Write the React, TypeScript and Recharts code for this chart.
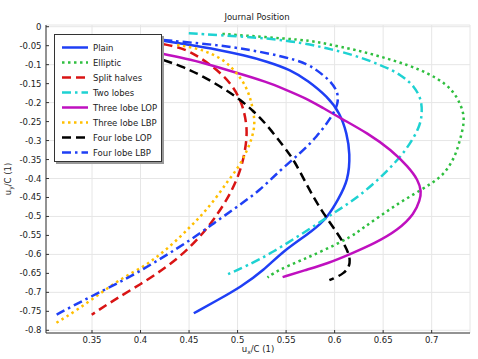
import { LineChart, Line, XAxis, YAxis, CartesianGrid } from 'recharts';

// journal centre trajectories, [u_x/C, u_y/C]
const plain = [
  [0.4235, -0.037], [0.4514, -0.048], [0.479, -0.06], [0.5063, -0.075], [0.5309, -0.092],
  [0.555, -0.114], [0.5723, -0.142], [0.593, -0.185], [0.6057, -0.2285],
  [0.6126, -0.281], [0.616, -0.334], [0.6142, -0.4045], [0.6033, -0.457], [0.593, -0.501],
  [0.5788, -0.536], [0.5477, -0.589], [0.527, -0.642], [0.5032, -0.686], [0.479, -0.721],
  [0.4549, -0.755],
];
const elliptic = [
  [0.4843, -0.019], [0.5136, -0.0245], [0.5477, -0.031], [0.5757, -0.037], [0.593, -0.046],
  [0.6202, -0.06], [0.6481, -0.079], [0.6758, -0.101], [0.6965, -0.123], [0.7137, -0.149],
  [0.724, -0.176], [0.7309, -0.211], [0.7344, -0.246], [0.7292, -0.299], [0.724, -0.343],
  [0.7137, -0.387], [0.6999, -0.413], [0.6826, -0.44], [0.6654, -0.466], [0.6481, -0.497],
  [0.6305, -0.528], [0.6171, -0.554], [0.5891, -0.589], [0.5653, -0.616], [0.5412, -0.642],
  [0.5308, -0.661],
];
const splitHalves = [
  [0.4238, -0.046], [0.4377, -0.053], [0.4514, -0.066], [0.4652, -0.088], [0.479, -0.114],
  [0.4929, -0.149], [0.5015, -0.185], [0.5066, -0.22], [0.5101, -0.27], [0.5084, -0.317],
  [0.505, -0.36], [0.4992, -0.4045], [0.4889, -0.457], [0.475, -0.51], [0.4613, -0.554],
  [0.4407, -0.607], [0.4098, -0.664], [0.372, -0.721], [0.3497, -0.759],
];
const twoLobes = [
  [0.4497, -0.017], [0.4791, -0.022], [0.5343, -0.031], [0.5653, -0.042], [0.593, -0.057],
  [0.6202, -0.075], [0.6481, -0.101], [0.6688, -0.127], [0.6826, -0.158], [0.6895, -0.193],
  [0.6902, -0.228], [0.6878, -0.264], [0.6758, -0.317], [0.6619, -0.36],
  [0.6447, -0.404], [0.624, -0.449], [0.6033, -0.484], [0.5791, -0.525],
  [0.5343, -0.598], [0.5101, -0.629], [0.4877, -0.655],
];
const threeLobeLOP = [
  [0.4238, -0.072], [0.4514, -0.086], [0.479, -0.106], [0.5066, -0.127], [0.5343, -0.149],
  [0.555, -0.172], [0.5739, -0.193], [0.586, -0.211], [0.6067, -0.242], [0.6343, -0.281],
  [0.6584, -0.325], [0.6758, -0.369], [0.6861, -0.404], [0.6895, -0.435], [0.6878, -0.457],
  [0.6826, -0.492], [0.6654, -0.536], [0.6412, -0.571], [0.6171, -0.598], [0.593, -0.624],
  [0.5687, -0.642], [0.5464, -0.66],
];
const threeLobeLBP = [
  [0.4377, -0.048], [0.4584, -0.057], [0.4722, -0.07], [0.4859, -0.088], [0.4963, -0.114],
  [0.505, -0.141], [0.5118, -0.176], [0.5153, -0.211], [0.518, -0.25], [0.516, -0.285],
  [0.5101, -0.325], [0.5015, -0.369], [0.4905, -0.4045], [0.4786, -0.4485], [0.4647, -0.4923],
  [0.451, -0.5277], [0.4338, -0.5715], [0.4167, -0.6069], [0.4029, -0.6332], [0.3824, -0.66],
  [0.3582, -0.703], [0.3342, -0.7475], [0.3118, -0.7826],
];
const fourLobeLOP = [
  [0.4238, -0.088], [0.4445, -0.106], [0.4652, -0.132], [0.4859, -0.163], [0.5032, -0.193],
  [0.517, -0.224], [0.5291, -0.255], [0.548, -0.317], [0.5584, -0.352],
  [0.5723, -0.422], [0.5861, -0.484], [0.6033, -0.545], [0.6137, -0.589], [0.6171, -0.624],
  [0.6102, -0.651], [0.5946, -0.668],
];
const fourLobeLBP = [
  [0.4235, -0.035], [0.479, -0.048], [0.5136, -0.061], [0.548, -0.079], [0.5723, -0.097],
  [0.586, -0.123], [0.5964, -0.145], [0.6033, -0.172], [0.6039, -0.202], [0.5971, -0.2375],
  [0.5817, -0.29], [0.5644, -0.334], [0.5438, -0.378], [0.5232, -0.431], [0.4992, -0.475],
  [0.475, -0.519], [0.451, -0.563], [0.4235, -0.607], [0.3892, -0.66], [0.3479, -0.712],
  [0.3117, -0.761],
];

const xTicks = [0.35, 0.4, 0.45, 0.5, 0.55, 0.6, 0.65, 0.7];
const yTicks = [0, -0.05, -0.1, -0.15, -0.2, -0.25, -0.3, -0.35, -0.4, -0.45, -0.5, -0.55, -0.6, -0.65, -0.7, -0.75, -0.8];

const series = [
  { name: 'Plain', pts: plain, color: '#1f3ff5', dash: undefined },
  { name: 'Elliptic', pts: elliptic, color: '#2fbf3f', dash: '2.5 3.5' },
  { name: 'Split halves', pts: splitHalves, color: '#d91414', dash: '9 5' },
  { name: 'Two lobes', pts: twoLobes, color: '#1ed2d2', dash: '9 4 2.5 4' },
  { name: 'Three lobe LOP', pts: threeLobeLOP, color: '#bf10bf', dash: undefined },
  { name: 'Three lobe LBP', pts: threeLobeLBP, color: '#ffbf00', dash: '2.5 3.5' },
  { name: 'Four lobe LOP', pts: fourLobeLOP, color: '#000000', dash: '9 5' },
  { name: 'Four lobe LBP', pts: fourLobeLBP, color: '#1f3ff5', dash: '9 4 2.5 4' },
];

const font = 'DejaVu Sans, sans-serif';
const tickStyle = { fill: '#222', fontSize: 8.5, fontFamily: font };
const fmt = (v: number) => {
  const s = String(Number(v.toFixed(2)));
  return s === '-0' ? '0' : s;
};

export default function App() {
  const xDomain = [0.3026, 0.7395];
  const yDomain = [-0.8071, 0.0045];

  return (
    <div style={{ position: 'absolute', left: 0, top: 0, width: 478, height: 359, background: '#fff' }}>
      <LineChart width={478} height={359} margin={{ top: 25, right: 8, bottom: 0, left: 0 }}>
        <CartesianGrid stroke="#e6e6e6" />
        <XAxis
          type="number"
          dataKey="x"
          domain={xDomain}
          ticks={xTicks}
          allowDataOverflow
          height={26}
          tickSize={-3}
          tickMargin={7}
          tick={tickStyle}
          tickFormatter={fmt}
          stroke="#333"
        />
        <XAxis
          xAxisId="top"
          orientation="top"
          type="number"
          dataKey="x"
          domain={xDomain}
          ticks={xTicks}
          allowDataOverflow
          height={0}
          tickSize={-3}
          tick={false}
          stroke="#333"
        />
        <YAxis
          type="number"
          dataKey="y"
          domain={yDomain}
          ticks={yTicks}
          allowDataOverflow
          width={46}
          tickSize={-3}
          tickMargin={7.5}
          tick={tickStyle}
          tickFormatter={fmt}
          stroke="#333"
        />
        <YAxis
          yAxisId="right"
          orientation="right"
          type="number"
          dataKey="y"
          domain={yDomain}
          ticks={yTicks}
          allowDataOverflow
          width={0}
          tickSize={-3}
          tick={false}
          stroke="#333"
        />
        {series.map((s) => (
          <Line
            key={s.name}
            name={s.name}
            type="basis"
            data={s.pts.map(([x, y]) => ({ x, y }))}
            dataKey="y"
            stroke={s.color}
            strokeWidth={2.5}
            strokeDasharray={s.dash}
            dot={false}
            activeDot={false}
            isAnimationActive={false}
          />
        ))}
      </LineChart>

      <svg
        width={478}
        height={359}
        style={{ position: 'absolute', left: 0, top: 0, pointerEvents: 'none' }}
        fontFamily={font}
      >
        <text x={257} y={20} textAnchor="middle" fontSize={8.5} fill="#222">
          Journal Position
        </text>
        <text x={258} y={352} textAnchor="middle" fontSize={8.5} fill="#222">
          u<tspan fontSize={6} dy={2}>x</tspan>
          <tspan dy={-2}>/C (1)</tspan>
        </text>
        <text x={11} y={179} textAnchor="middle" fontSize={8.5} fill="#222" transform="rotate(-90 11 179)">
          u<tspan fontSize={6} dy={2}>y</tspan>
          <tspan dy={-2}>/C (1)</tspan>
        </text>

        <g transform="translate(54 34)">
          <rect x={2} y={2} width={108} height={128} fill="#999" />
          <rect x={0.5} y={0.5} width={107} height={127} fill="#fff" stroke="#333" />
          {series.map((s, i) => {
            const cy = 13.5 + i * 15;
            return (
              <g key={s.name}>
                <line
                  x1={8}
                  x2={34}
                  y1={cy}
                  y2={cy}
                  stroke={s.color}
                  strokeWidth={2.5}
                  strokeDasharray={s.dash}
                />
                <text x={39} y={cy + 3} fontSize={8.5} fill="#222">
                  {s.name}
                </text>
              </g>
            );
          })}
        </g>
      </svg>
    </div>
  );
}
